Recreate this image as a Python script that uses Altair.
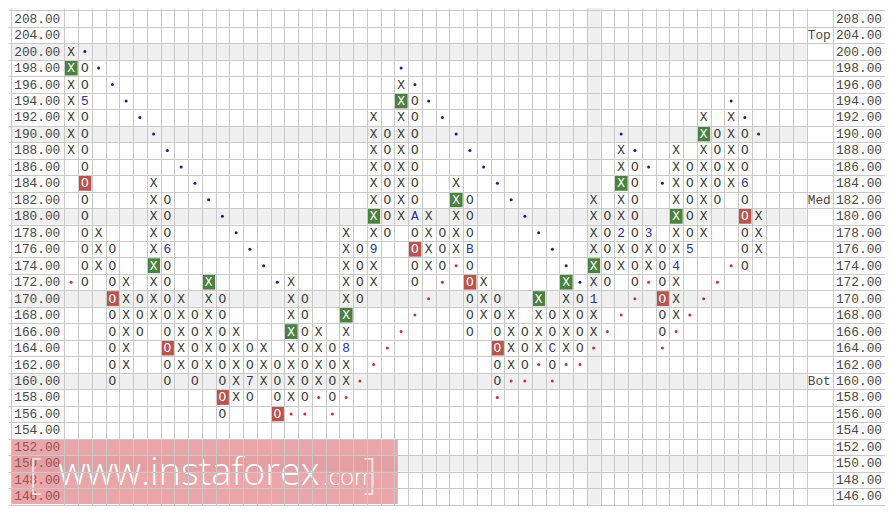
import altair as alt
import pandas as pd

# ---------------- data ----------------
PRICES = [208, 204, 200, 198, 196, 194, 192, 190, 188, 186, 184, 182, 180,
          178, 176, 174, 172, 170, 168, 166, 164, 162, 160, 158, 156, 154,
          152, 150, 148, 146]
PRICE_LABELS = ["208.00", "204.00", "200.00", "198.00", "196.00", "194.00",
                "192.00", "190.00", "188.00", "186.00", "184.00", "182.00",
                "180.00", "178.00", "176.00", "174.00", "172.00", "170.00",
                "168.00", "166.00", "164.00", "162.00", "160.00", "158.00",
                "156.00", "154.00", "152.00", "150.00", "148.00", "146.00"]

# (column, kind, top price, bottom price)
COLUMNS = [
    (0, "X", 200, 188), (1, "O", 198, 172), (2, "X", 178, 174), (3, "O", 176, 160),
    (4, "X", 172, 162), (5, "O", 170, 166), (6, "X", 184, 168), (7, "O", 182, 160),
    (8, "X", 170, 162), (9, "O", 168, 160), (10, "X", 172, 162), (11, "O", 170, 156),
    (12, "X", 166, 158), (13, "O", 164, 158), (14, "X", 164, 160), (15, "O", 162, 156),
    (16, "X", 172, 158), (17, "O", 170, 158), (18, "X", 166, 160), (19, "O", 164, 158),
    (20, "X", 178, 160), (21, "O", 176, 170), (22, "X", 192, 172), (23, "O", 190, 178),
    (24, "X", 196, 180), (25, "O", 194, 172), (26, "X", 180, 174), (27, "O", 178, 174),
    (28, "X", 184, 176), (29, "O", 182, 166), (30, "X", 172, 168), (31, "O", 170, 160),
    (32, "X", 168, 162), (33, "O", 166, 162), (34, "X", 170, 164), (35, "O", 168, 162),
    (36, "X", 172, 164), (37, "O", 170, 164), (38, "X", 182, 166), (39, "O", 180, 172),
    (40, "X", 188, 174), (41, "O", 186, 172), (42, "X", 178, 174), (43, "O", 176, 166),
    (44, "X", 188, 168), (45, "O", 186, 176), (46, "X", 192, 178), (47, "O", 190, 182),
    (48, "X", 192, 184), (49, "O", 190, 174), (50, "X", 180, 176),
]

# month markers replacing a box
MARKERS = [(1, 194, "5"), (7, 176, "6"), (13, 160, "7"), (20, 164, "8"),
           (22, 176, "9"), (25, 180, "A"), (29, 176, "B"), (35, 164, "C"),
           (38, 170, "1"), (40, 178, "2"), (42, 178, "3"), (44, 174, "4"),
           (45, 176, "5"), (49, 184, "6")]

GREEN_BOXES = [(0, 198), (6, 174), (10, 172), (16, 166), (20, 168), (22, 180),
               (24, 194), (28, 182), (34, 170), (36, 172), (38, 174), (40, 184),
               (44, 180), (46, 190)]
RED_BOXES = [(1, 184), (3, 170), (7, 164), (11, 158), (15, 156), (25, 176),
             (29, 172), (31, 164), (43, 170), (49, 180)]

BLUE_DOTS = [(1, 200), (2, 198), (3, 196), (4, 194), (5, 192), (6, 190), (7, 188),
             (8, 186), (9, 184), (10, 182), (11, 180), (12, 178), (13, 176),
             (14, 174), (15, 172),
             (24, 198), (25, 196), (26, 194), (27, 192), (28, 190), (29, 188),
             (30, 186), (31, 184), (32, 182), (33, 180), (34, 178), (35, 176),
             (36, 174), (37, 172),
             (40, 190), (41, 188), (42, 186), (43, 184),
             (48, 194), (49, 192), (50, 190)]
RED_DOTS = [(0, 172),
            (16, 156), (17, 156), (18, 158), (19, 156), (20, 158), (21, 160),
            (22, 162), (23, 164), (24, 166), (25, 168), (26, 170), (27, 172),
            (28, 174),
            (31, 158), (32, 160), (33, 160), (34, 162), (35, 160), (36, 162),
            (37, 162), (38, 164), (39, 166), (40, 168), (41, 170), (42, 172),
            (43, 164), (44, 166), (45, 168), (46, 170), (47, 172), (48, 174)]

SHADED_PRICES = [200, 190, 180, 170, 160, 150]
SHADED_COLS = [38]
SIDE_TAGS = [("Top", 204), ("Med", 182), ("Bot", 160)]

# ---------------- layout (column / row units) ----------------
XMIN, XMAX = -4.593, 59.19
YMIN, YMAX = -0.647, 29.59
LEFT_EDGE, LAST_DATA_EDGE, TAG_EDGE = -4.4, 53.5, 55.43
XGRID = [LEFT_EDGE] + [i - 0.5 for i in range(55)] + [TAG_EDGE]
YGRID = [i - 0.5 for i in range(31)]

FONT = "Courier New, Liberation Mono, monospace"
GREEN, RED = "#4b8141", "#b8534d"
INK, BLUE_INK = "#3a3a3a", "#2e2ea0"

ROW = {p: i for i, p in enumerate(PRICES)}

# ---------------- tables ----------------
marker_map = {(c, p): t for c, p, t in MARKERS}
green_set = set(GREEN_BOXES)
red_set = set(RED_BOXES)

cells = []
for col, kind, top, bottom in COLUMNS:
    for p in PRICES:
        if bottom <= p <= top:
            txt = marker_map.get((col, p), kind)
            boxed = (col, p) in green_set or (col, p) in red_set
            color = "#ffffff" if boxed else (BLUE_INK if (col, p) in marker_map else INK)
            cells.append({"c": col, "r": ROW[p], "t": txt, "color": color})
cells_df = pd.DataFrame(cells)

boxes = [{"x0": c - 0.47, "x1": c + 0.47, "y0": ROW[p] - 0.45, "y1": ROW[p] + 0.45,
          "fill": GREEN} for c, p in GREEN_BOXES]
boxes += [{"x0": c - 0.47, "x1": c + 0.47, "y0": ROW[p] - 0.45, "y1": ROW[p] + 0.45,
           "fill": RED} for c, p in RED_BOXES]
boxes_df = pd.DataFrame(boxes)

shade = [{"x0": LEFT_EDGE, "x1": LAST_DATA_EDGE, "y0": ROW[p] - 0.5, "y1": ROW[p] + 0.5}
         for p in SHADED_PRICES]
shade += [{"x0": c - 0.5, "x1": c + 0.5, "y0": YMIN, "y1": 29.5} for c in SHADED_COLS]
shade_df = pd.DataFrame(shade)

dots_df = pd.DataFrame(
    [{"c": c, "r": ROW[p], "color": "#1d1d8c"} for c, p in BLUE_DOTS] +
    [{"c": c, "r": ROW[p], "color": "#c8352c"} for c, p in RED_DOTS])

left_df = pd.DataFrame({"c": [-0.79] * len(PRICES), "r": list(range(len(PRICES))),
                        "t": PRICE_LABELS})
right_df = pd.DataFrame({"c": [55.62] * len(PRICES), "r": list(range(len(PRICES))),
                         "t": PRICE_LABELS})
tags_df = pd.DataFrame({"c": [53.57] * len(SIDE_TAGS), "r": [ROW[p] for _, p in SIDE_TAGS],
                        "t": [t for t, _ in SIDE_TAGS]})

wm_box = pd.DataFrame({"x0": [-4.38], "x1": [23.76], "y0": [25.53], "y1": [29.47]})
wm_main = pd.DataFrame({"c": [-0.92], "r": [28.3], "t": ["www.instaforex"]})
wm_com = pd.DataFrame({"c": [18.3], "r": [28.3], "t": [".com"]})
wm_br = pd.DataFrame({"c": [-2.62, 21.75], "r": [27.7, 27.7], "t": ["[", "]"]})

# ---------------- encodings ----------------
XS = alt.Scale(domain=[XMIN, XMAX], nice=False, zero=False)
YS = alt.Scale(domain=[YMIN, YMAX], nice=False, zero=False, reverse=True)
XAX = alt.Axis(values=XGRID, grid=True, labels=False, ticks=False, domain=False,
               title=None, gridColor="#c9c9c9", gridWidth=1, zindex=1)
YAX = alt.Axis(values=YGRID, grid=True, labels=False, ticks=False, domain=False,
               title=None, gridColor="#c9c9c9", gridWidth=1, zindex=1)


def ex(f):
    return alt.X(f"{f}:Q", scale=XS, axis=XAX)


def ey(f):
    return alt.Y(f"{f}:Q", scale=YS, axis=YAX)


shade_layer = alt.Chart(shade_df).mark_rect(color="#f0f0f0").encode(
    x=ex("x0"), x2="x1", y=ey("y0"), y2="y1")

box_layer = alt.Chart(boxes_df).mark_rect().encode(
    x=ex("x0"), x2="x1", y=ey("y0"), y2="y1",
    color=alt.Color("fill:N", scale=None))

cell_layer = alt.Chart(cells_df).mark_text(
    font=FONT, fontSize=12.8, baseline="middle", align="center").encode(
    x=ex("c"), y=ey("r"), text="t:N", color=alt.Color("color:N", scale=None))

dot_layer = alt.Chart(dots_df).mark_circle(size=9, opacity=1).encode(
    x=ex("c"), y=ey("r"), color=alt.Color("color:N", scale=None))

left_layer = alt.Chart(left_df).mark_text(
    font=FONT, fontSize=12.8, baseline="middle", align="right", color="#484848").encode(
    x=ex("c"), y=ey("r"), text="t:N")

right_layer = alt.Chart(right_df).mark_text(
    font=FONT, fontSize=12.8, baseline="middle", align="left", color="#484848").encode(
    x=ex("c"), y=ey("r"), text="t:N")

tag_layer = alt.Chart(tags_df).mark_text(
    font=FONT, fontSize=12.8, baseline="middle", align="left", color="#484848").encode(
    x=ex("c"), y=ey("r"), text="t:N")

wm_box_layer = alt.Chart(wm_box).mark_rect(color="#d95c62", opacity=0.55).encode(
    x=ex("x0"), x2="x1", y=ey("y0"), y2="y1")

wm_main_layer = alt.Chart(wm_main).mark_text(
    font="Open Sans", fontSize=38, fontWeight=300, align="left",
    baseline="alphabetic", color="#ffffff").encode(x=ex("c"), y=ey("r"), text="t:N")

wm_com_layer = alt.Chart(wm_com).mark_text(
    font="Open Sans", fontSize=24, fontWeight=300, align="left",
    baseline="alphabetic", color="#ffffff").encode(x=ex("c"), y=ey("r"), text="t:N")

wm_br_layer = alt.Chart(wm_br).mark_text(
    font="Open Sans", fontSize=42, fontWeight=300, align="center",
    baseline="middle", color="#f7dcdd").encode(x=ex("c"), y=ey("r"), text="t:N")

chart = alt.layer(
    shade_layer, box_layer, cell_layer, dot_layer, left_layer, right_layer,
    tag_layer, wm_box_layer, wm_main_layer, wm_com_layer, wm_br_layer
).properties(
    width=877, height=498, padding=0, autosize="none", background="#ffffff"
).configure_view(stroke=None)

chart.save("out.html", embed_options={"renderer": "svg", "actions": False})
